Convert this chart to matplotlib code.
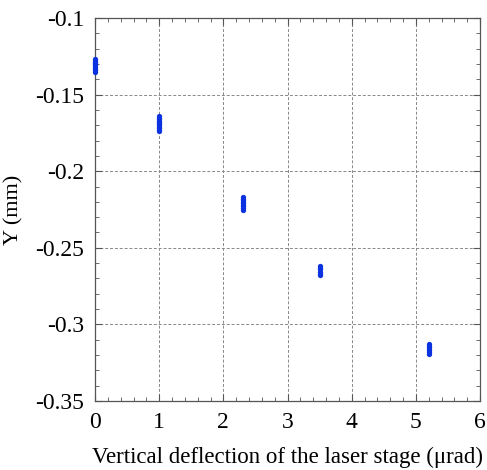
import matplotlib
matplotlib.use("Agg")
import matplotlib.pyplot as plt
from matplotlib.ticker import MultipleLocator

plt.rcParams['font.family'] = ['Liberation Serif', 'DejaVu Serif']

# Data
x0 = [0.0] * 10
y0 = [-0.127, -0.128, -0.129, -0.1295, -0.130, -0.131, -0.132, -0.133, -0.134, -0.135]
x1 = [1.0] * 12
y1 = [-0.164, -0.165, -0.166, -0.167, -0.168, -0.1685, -0.169, -0.170, -0.171, -0.172, -0.173, -0.174]
x2 = [2.3] * 9
y2 = [-0.217, -0.218, -0.219, -0.220, -0.221, -0.222, -0.223, -0.224, -0.225]
x3 = [3.5] * 6
y3 = [-0.262, -0.263, -0.264, -0.266, -0.267, -0.268]
x4 = [5.2] * 7
y4 = [-0.313, -0.314, -0.315, -0.316, -0.317, -0.318, -0.319]

xs = x0 + x1 + x2 + x3 + x4
ys = y0 + y1 + y2 + y3 + y4

xticks = [0, 1, 2, 3, 4, 5, 6]
yticks = [-0.35, -0.3, -0.25, -0.2, -0.15, -0.1]
ytick_labels = ['-0.35', '-0.3', '-0.25', '-0.2', '-0.15', '-0.1']

fig = plt.figure(figsize=(4.87, 4.70), dpi=100)
ax = fig.add_axes([95/487, 1 - 401/470, 385/487, 383/470])

ax.plot(xs, ys, 'o', color='#0a32e0', markersize=3.8, markeredgewidth=0,
        zorder=3, clip_on=False)

ax.set_xlim(0, 6)
ax.set_ylim(-0.35, -0.1)
ax.set_xticks(xticks)
ax.set_xticklabels([str(t) for t in xticks])
ax.set_yticks(yticks)
ax.set_yticklabels(ytick_labels)
ax.xaxis.set_minor_locator(MultipleLocator(0.2))
ax.yaxis.set_minor_locator(MultipleLocator(0.01))
ax.tick_params(which='both', direction='in', top=True, right=True, color='#555555')
ax.tick_params(which='major', length=5, labelsize=17, pad=8)
ax.tick_params(which='minor', length=3)
ax.grid(True, which='major', linestyle=(0, (3, 2)), color='#888888', linewidth=0.7)
for s in ax.spines.values():
    s.set_color('#555555')
    s.set_linewidth(0.9)

ax.set_xlabel('Vertical deflection of the laser stage (μrad)', fontsize=16.5, labelpad=10)
ax.set_ylabel('Y (mm)', fontsize=16, labelpad=8)

fig.savefig('out.png', dpi=100)
